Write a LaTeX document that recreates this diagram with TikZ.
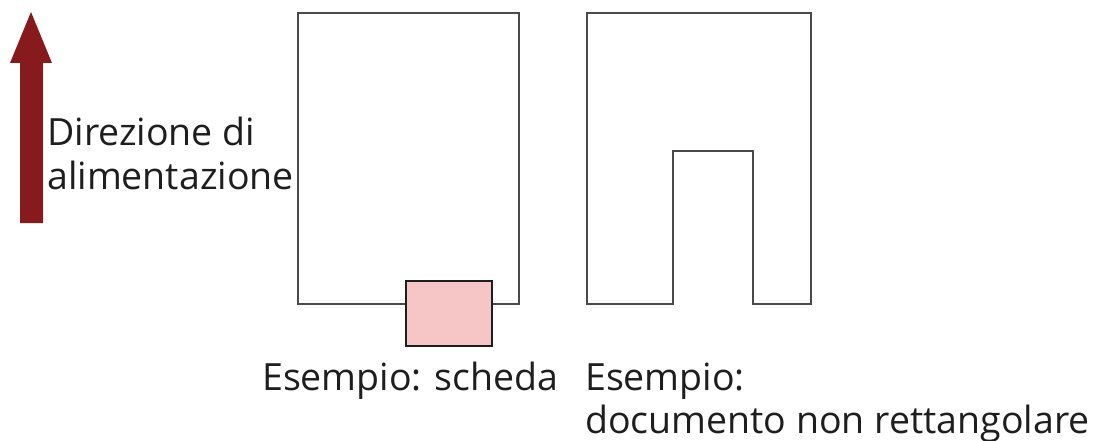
\documentclass[tikz,border=0pt]{standalone}
\usepackage{fontspec}
\setmainfont{Open Sans}
\usepackage{xcolor}
\usepackage{tikz}
\usetikzlibrary{arrows.meta,positioning,calc}
\definecolor{FeedRed}{HTML}{861A1D}
\definecolor{TabPink}{HTML}{F6C5C6}
\definecolor{EdgeGray}{HTML}{4A4A4A}
\definecolor{DarkText}{HTML}{1E1E1E}

\begin{document}
\begin{tikzpicture}[x=1pt,y=-1pt,
  sheet/.style={draw=EdgeGray,line width=2.6pt,line join=miter},
  tab/.style={draw=DarkText,fill=TabPink,line width=2.4pt},
  feed/.style={fill=FeedRed,draw=none},
  lbl/.style={anchor=base west,inner sep=0pt,text=DarkText,font=\fontsize{37.5}{45}\selectfont,align=left}
]
\useasboundingbox (0,0) rectangle (1097,441);
% feed direction arrow
\fill[feed] (20,223) -- (20,63) -- (10,63) -- (31,12) -- (52,63) -- (43,63) -- (43,223) -- cycle;
\node[lbl] (dir1) at (47,146) {Direzione di};
\node[lbl] (dir2) at (47,189) {alimentazione};
% sheet with tab
\draw[sheet] (298,13) rectangle (519,304);
\draw[tab] (406,281) rectangle (492,346);
\node[lbl] (lab1) at (262,390) {Esempio: scheda};
% non rectangular sheet
\draw[sheet] (587,13) -- (811,13) -- (811,304) -- (753,304) -- (753,151)
  -- (673,151) -- (673,304) -- (587,304) -- cycle;
\node[lbl] (lab2) at (585,390) {Esempio:};
\node[lbl] (lab3) at (585,433) {documento non rettangolare};
\end{tikzpicture}
\end{document}
